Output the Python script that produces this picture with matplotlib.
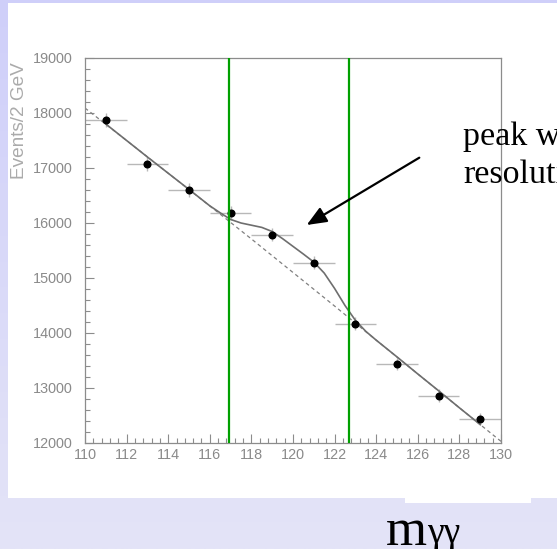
import numpy as np
import matplotlib.pyplot as plt
from matplotlib.patches import Rectangle
from matplotlib.ticker import MultipleLocator

# diphoton mass spectrum, 2 GeV bins
mass = [111, 113, 115, 117, 119, 121, 123, 125, 127, 129]
events = [17875, 17075, 16600, 16175, 15790, 15280, 14165, 13435, 12860, 12440]
errors = [134, 131, 129, 127, 126, 124, 119, 116, 113, 112]
bin_half = 1.0

# background only (dashed)
bg_x = [110, 112, 114, 116, 118, 120, 122, 124, 126, 128, 130]
bg_y = [18090, 17500, 16905, 16310, 15710, 15100, 14490, 13870, 13255, 12640, 12030]

# signal + background fit (solid)
fit_x = [111, 112, 113, 114, 115, 116, 116.5, 117, 117.5, 118, 118.5, 119, 119.5,
         120, 120.5, 121, 121.5, 122, 122.5, 123, 123.5, 124, 125, 126, 127, 128, 129]
fit_y = [17800, 17500, 17200, 16905, 16610, 16312, 16185, 16065, 16000, 15960, 15920,
         15845, 15715, 15575, 15435, 15290, 15090, 14810, 14500, 14230, 14030, 13870,
         13565, 13255, 12950, 12640, 12335]

# mass window
window = [116.9, 122.7]

W, H = 557, 549
fig = plt.figure(figsize=(W / 100, H / 100), dpi=100)

# lavender slide background
bg_ax = fig.add_axes([0, 0, 1, 1], zorder=-2)
grad = np.linspace(0, 1, 256).reshape(-1, 1)
top = np.array([207, 207, 250]) / 255
bot = np.array([228, 228, 247]) / 255
bg_ax.imshow(top + grad[:, :, None] * (bot - top), aspect='auto', extent=[0, 1, 0, 1])
bg_ax.set_axis_off()

# white panels
fig.add_artist(Rectangle((8 / W, (H - 498) / H), 1, 495 / H, transform=fig.transFigure,
                         facecolor='white', edgecolor='none', zorder=-1))
fig.add_artist(Rectangle((405 / W, (H - 503) / H), 126 / W, 10 / H, transform=fig.transFigure,
                         facecolor='white', edgecolor='none', zorder=-1))

ax = fig.add_axes([85 / W, (H - 443) / H, 416 / W, 385 / H], zorder=1)
ax.set_facecolor('white')

ax.plot(bg_x, bg_y, color='#808080', lw=0.9, ls=(0, (3, 2.5)), zorder=2)
ax.plot(fit_x, fit_y, color='#6e6e6e', lw=1.2, zorder=3)
ax.errorbar(mass, events, xerr=bin_half, yerr=errors, fmt='none',
            ecolor='#b8b8b8', elinewidth=1.0, capsize=0, zorder=1)
ax.plot(mass, events, 'o', color='black', markersize=4.8, zorder=4)

for xv in window:
    ax.axvline(xv, color='#00a000', lw=1.6, zorder=5)

ax.set_xlim(110, 130)
ax.set_ylim(12000, 19000)
ax.xaxis.set_major_locator(MultipleLocator(2))
ax.xaxis.set_minor_locator(MultipleLocator(0.4))
ax.yaxis.set_major_locator(MultipleLocator(1000))
ax.yaxis.set_minor_locator(MultipleLocator(200))

grey = '#8a8a8a'
for s in ax.spines.values():
    s.set_color('#8c8c8c')
    s.set_linewidth(0.9)
ax.tick_params(which='both', direction='in', color='#8c8c8c', width=0.8,
               labelcolor=grey, labelsize=10.4)
ax.tick_params(which='major', length=6.5)
ax.tick_params(which='minor', length=3.5)
ax.tick_params(axis='x', pad=3.5)
ax.tick_params(axis='y', pad=9)
for lab in ax.get_xticklabels() + ax.get_yticklabels():
    lab.set_family('Liberation Sans')

fig.text(19.5 / W, (H - 121) / H, 'Events/2 GeV', rotation=90, ha='center', va='center',
         color='#ababab', fontsize=13.7, family='Liberation Sans')

# arrow pointing at the excess
ax.annotate('', xy=(306.7, H - 225), xycoords='figure pixels',
            xytext=(419.3, H - 157.7), textcoords='figure pixels',
            arrowprops=dict(arrowstyle='-|>,head_length=0.6,head_width=0.25',
                            mutation_scale=20, color='black', lw=1.6,
                            shrinkA=0, shrinkB=0),
            annotation_clip=False, zorder=6)

fig.text(463 / W, (H - 145) / H, 'peak width', fontsize=24.5, family='Liberation Serif',
         ha='left', va='baseline', color='black')
fig.text(463 / W, (H - 183) / H, 'resolution', fontsize=24.5, family='Liberation Serif',
         ha='left', va='baseline', color='black')

fig.text(386 / W, (H - 545) / H, 'm', fontsize=38, family='Liberation Serif',
         ha='left', va='baseline', color='black')
fig.text(427 / W, (H - 543) / H, 'γγ', fontsize=27, family='Liberation Serif',
         ha='left', va='baseline', color='black')

fig.savefig('out.png', dpi=100)
